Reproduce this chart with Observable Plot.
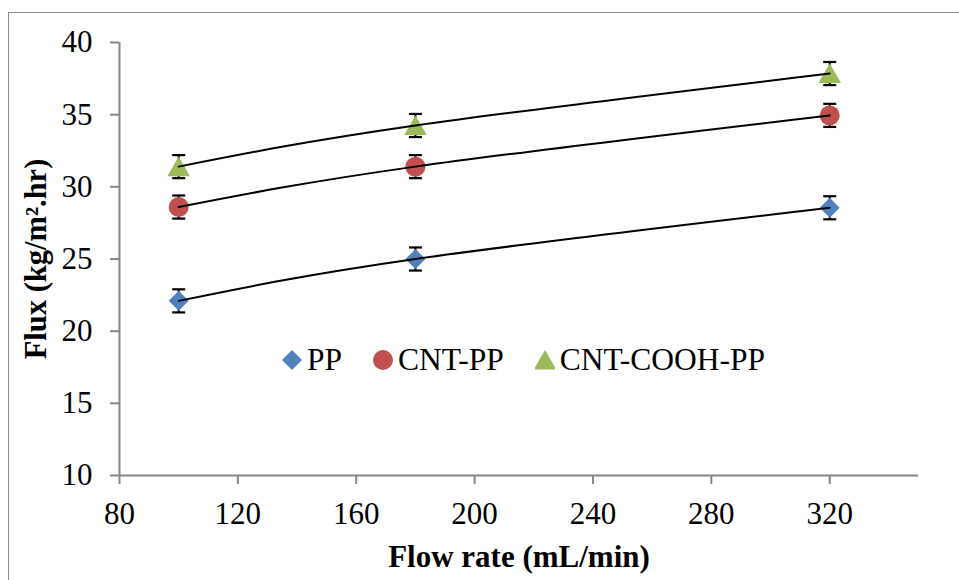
<!DOCTYPE html>
<html>
<head>
<meta charset="utf-8">
<script src="https://cdn.jsdelivr.net/npm/d3@7"></script>
<script src="https://cdn.jsdelivr.net/npm/@observablehq/plot@0.6"></script>
<style>
  html, body { margin: 0; padding: 0; background: #fff; }
  #wrap { position: relative; width: 959px; height: 580px; overflow: hidden; font-family: "Liberation Serif", "Times New Roman", serif; }
  #border { position: absolute; left: 8px; top: 12px; width: 2000px; height: 2000px; border-left: 1.5px solid #8c8c8c; border-top: 1.5px solid #8c8c8c; }
  #chart { position: absolute; left: 0; top: 0; }
  #legend { position: absolute; left: 282px; top: 344px; display: flex; align-items: center; font-size: 31.5px; line-height: 1; color: #000; }
  .item { display: flex; align-items: center; margin-right: 31px; }
  .item svg { margin-right: 5px; }
</style>
</head>
<body>
<div id="wrap">
  <div id="border"></div>
  <div id="chart"></div>
  <div id="legend"></div>
</div>
<script>
const flowRate = [100, 180, 320];
const ppFlux = [22.1, 25.0, 28.55];
const cntFlux = [28.6, 31.4, 34.95];
const coohFlux = [31.4, 34.25, 37.85];
const fluxError = [0.8, 0.8, 0.8];
const seriesNames = ["PP", "CNT-PP", "CNT-COOH-PP"];
const seriesColors = ["#4F81BD", "#C0504D", "#9BBB59"];
const xTicks = [80, 120, 160, 200, 240, 280, 320];
const yTicks = [10, 15, 20, 25, 30, 35, 40];

const seriesValues = [ppFlux, cntFlux, coohFlux];
const rows = [];
seriesNames.forEach((name, i) => {
  flowRate.forEach((x, j) => rows.push({series: name, x, y: seriesValues[i][j], err: fluxError[j]}));
});
const bySeries = name => rows.filter(d => d.series === name);

const cap = { draw(ctx, size) { const w = Math.sqrt(size / Math.PI); ctx.moveTo(-w, 0); ctx.lineTo(w, 0); } };

const symbols = {"PP": "diamond2", "CNT-PP": "circle", "CNT-COOH-PP": "triangle"};
const radii = {"PP": 9, "CNT-PP": 10, "CNT-COOH-PP": 8.4};

const marks = [
  Plot.axisX({ticks: xTicks, tickSize: 9, tickPadding: 17, stroke: "#868686", strokeWidth: 2, fill: "#000", fontSize: 31, label: null}),
  Plot.axisY({ticks: yTicks, tickSize: 9, tickPadding: 18, stroke: "#868686", strokeWidth: 2, fill: "#000", fontSize: 31, label: null}),
  Plot.ruleY([10], {stroke: "#868686", strokeWidth: 2}),
  Plot.ruleX([80], {stroke: "#868686", strokeWidth: 2}),
  Plot.ruleX(rows, {x: "x", y1: d => d.y - d.err, y2: d => d.y + d.err, stroke: "#000", strokeWidth: 2}),
  Plot.dot(rows, {x: "x", y: d => d.y + d.err, symbol: cap, r: 6.5, fill: "none", stroke: "#000", strokeWidth: 2.2}),
  Plot.dot(rows, {x: "x", y: d => d.y - d.err, symbol: cap, r: 6.5, fill: "none", stroke: "#000", strokeWidth: 2.2}),
];
seriesNames.forEach((name, i) => {
  marks.push(Plot.dot(bySeries(name), {x: "x", y: "y", symbol: symbols[name], r: radii[name], fill: seriesColors[i], stroke: "none", dy: name === "CNT-COOH-PP" ? 3 : 0}));
});
seriesNames.forEach((name) => {
  marks.push(Plot.line(bySeries(name), {x: "x", y: "y", curve: "natural", stroke: "#000", strokeWidth: 2}));
});
marks.push(Plot.text(["Flow rate (mL/min)"], {frameAnchor: "bottom", dy: 82, text: d => d, fontSize: 31, fontWeight: "bold", textAnchor: "middle", lineAnchor: "middle", fill: "#000"}));
marks.push(Plot.text(["Flux (kg/m\u00B2.hr)"], {frameAnchor: "left", dx: -83, rotate: -90, text: d => d, fontSize: 30.5, fontWeight: "bold", textAnchor: "middle", lineAnchor: "middle", fill: "#000"}));

const chart = Plot.plot({
  width: 959, height: 580,
  marginLeft: 119, marginTop: 42, marginRight: 41, marginBottom: 105,
  x: {domain: [80, 350]},
  y: {domain: [10, 40]},
  style: {fontFamily: "Liberation Serif, Times New Roman, serif", fontSize: "31px", color: "#000", background: "transparent", overflow: "visible"},
  marks
});
document.getElementById("chart").appendChild(chart);

// Legend
const legend = document.getElementById("legend");
seriesNames.forEach((name, i) => {
  const item = document.createElement("div");
  item.className = "item";
  const s = d3.create("svg").attr("width", 20).attr("height", 22).attr("viewBox", "-10 -11 20 22");
  const type = {"diamond2": d3.symbolDiamond2, "circle": d3.symbolCircle, "triangle": d3.symbolTriangle}[symbols[name]];
  const r = radii[name];
  s.append("path").attr("d", d3.symbol(type, Math.PI * r * r)()).attr("fill", seriesColors[i]).attr("transform", name === "CNT-COOH-PP" ? "translate(0,3)" : null);
  item.appendChild(s.node());
  const t = document.createElement("span");
  t.textContent = name;
  item.appendChild(t);
  legend.appendChild(item);
});
</script>
</body>
</html>
